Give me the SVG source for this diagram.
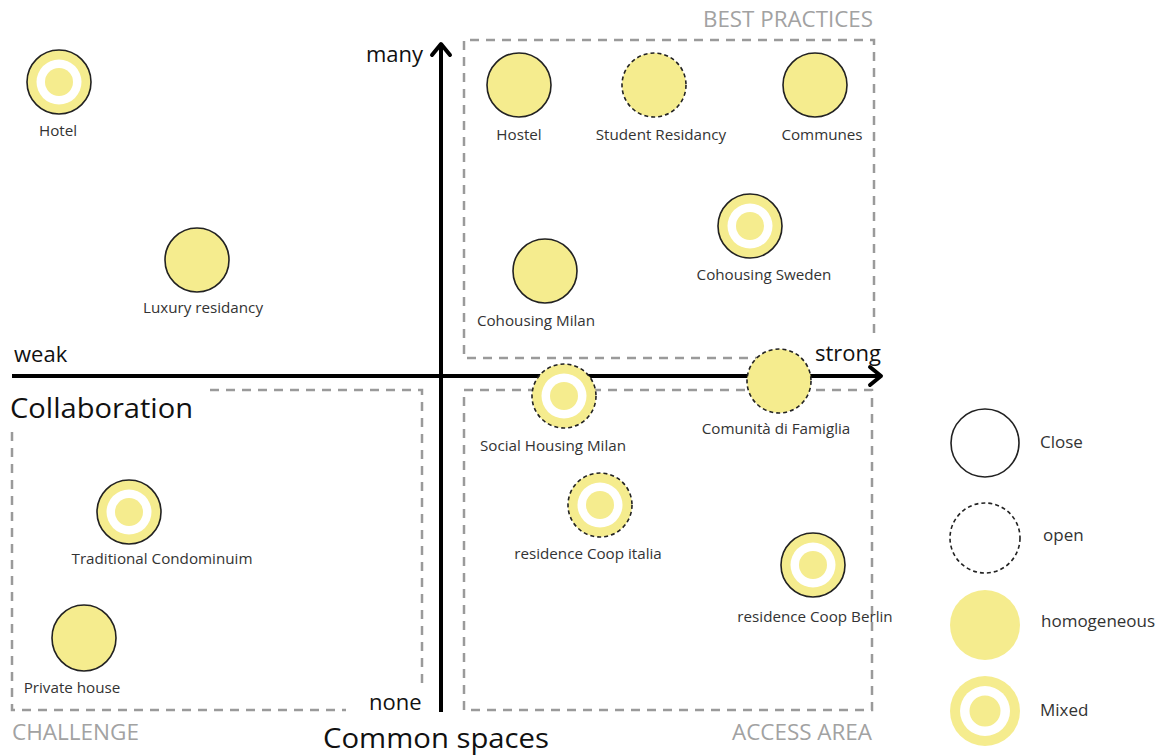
<svg xmlns="http://www.w3.org/2000/svg" width="1161" height="756" viewBox="0 0 1161 756">
<style>
  text { font-family: "Open Sans", "Liberation Sans", sans-serif; }
  .lbl { font-size: 15.2px; fill: #333; text-anchor: middle; }
  .leg { font-size: 17px; fill: #333; }
  .ax { font-size: 22px; fill: #111; }
  .title { font-size: 27px; fill: #111; }
  .zone { font-size: 22px; fill: #a2a2a2; }
  .box { fill: none; stroke: #9a9a9a; stroke-width: 2.5; stroke-dasharray: 9 7; }
  .axis { fill: none; stroke: #000; stroke-width: 4; }
  .head { fill: none; stroke: #000; stroke-width: 4; stroke-linecap: round; stroke-linejoin: round; }
  .y { fill: #f5ec8e; }
  .w { fill: #fff; }
  .solid { fill: #f5ec8e; stroke: #222; stroke-width: 1.6; }
  .dash { fill: #f5ec8e; stroke: #222; stroke-width: 1.6; stroke-dasharray: 4 3; }
</style>

<g id="zones">
  <path class="box" d="M780 358 H464 V40 H874 V338"/>
  <rect class="box" x="464" y="390" width="408" height="320"/>
  <path class="box" d="M210 390 H422 V686"/>
  <path class="box" d="M12 432 V710 H346"/>
  <text class="zone" x="703" y="27" textLength="170" lengthAdjust="spacingAndGlyphs">BEST PRACTICES</text>
  <text class="zone" x="12" y="740" textLength="127" lengthAdjust="spacingAndGlyphs">CHALLENGE</text>
  <text class="zone" x="732" y="740" textLength="140" lengthAdjust="spacingAndGlyphs">ACCESS AREA</text>
</g>

<g id="connectors">
  <line class="axis" x1="441" y1="44" x2="441" y2="712"/>
  <path class="head" d="M432 55 L441 44 L450 55"/>
  <line class="axis" x1="12" y1="376" x2="880" y2="376"/>
  <path class="head" d="M870 367 L881 376 L870 385"/>
</g>

<g id="axis-labels">
  <text class="ax" x="366" y="62">many</text>
  <text class="ax" x="369" y="710">none</text>
  <text class="ax" x="14" y="362">weak</text>
  <text class="ax" x="815" y="361">strong</text>
  <text class="title" x="10" y="418" textLength="183" lengthAdjust="spacingAndGlyphs">Collaboration</text>
  <text class="title" x="323" y="748" textLength="226" lengthAdjust="spacingAndGlyphs">Common spaces</text>
</g>

<g id="hotel">
  <circle class="solid" cx="59" cy="82" r="32"/>
  <circle class="w" cx="59" cy="82" r="22.5"/>
  <circle class="y" cx="59" cy="82" r="14"/>
  <text class="lbl" x="58" y="136">Hotel</text>
</g>
<g id="luxury-residancy">
  <circle class="solid" cx="197" cy="260" r="32"/>
  <text class="lbl" x="203" y="313">Luxury residancy</text>
</g>
<g id="hostel">
  <circle class="solid" cx="519" cy="85" r="32"/>
  <text class="lbl" x="519" y="140">Hostel</text>
</g>
<g id="student-residancy">
  <circle class="dash" cx="654" cy="85" r="32"/>
  <text class="lbl" x="661" y="140">Student Residancy</text>
</g>
<g id="communes">
  <circle class="solid" cx="815" cy="85" r="32"/>
  <text class="lbl" x="822" y="140">Communes</text>
</g>
<g id="cohousing-sweden">
  <circle class="solid" cx="750" cy="226" r="32"/>
  <circle class="w" cx="750" cy="226" r="22.5"/>
  <circle class="y" cx="750" cy="226" r="14"/>
  <text class="lbl" x="764" y="280">Cohousing Sweden</text>
</g>
<g id="cohousing-milan">
  <circle class="solid" cx="545" cy="271" r="32"/>
  <text class="lbl" x="536" y="326">Cohousing Milan</text>
</g>
<g id="social-housing-milan">
  <circle class="dash" cx="564" cy="396" r="32"/>
  <circle class="w" cx="564" cy="396" r="22.5"/>
  <circle class="y" cx="564" cy="396" r="14"/>
  <text class="lbl" x="553" y="451">Social Housing Milan</text>
</g>
<g id="comunita-di-famiglia">
  <circle class="dash" cx="779" cy="381" r="32"/>
  <text class="lbl" x="776" y="434">Comunità di Famiglia</text>
</g>
<g id="traditional-condominuim">
  <circle class="solid" cx="129" cy="512" r="32"/>
  <circle class="w" cx="129" cy="512" r="22.5"/>
  <circle class="y" cx="129" cy="512" r="14"/>
  <text class="lbl" x="162" y="564">Traditional Condominuim</text>
</g>
<g id="residence-coop-italia">
  <circle class="dash" cx="600" cy="505" r="32"/>
  <circle class="w" cx="600" cy="505" r="22.5"/>
  <circle class="y" cx="600" cy="505" r="14"/>
  <text class="lbl" x="588" y="559">residence Coop italia</text>
</g>
<g id="residence-coop-berlin">
  <circle class="solid" cx="813" cy="565" r="32"/>
  <circle class="w" cx="813" cy="565" r="22.5"/>
  <circle class="y" cx="813" cy="565" r="14"/>
  <text class="lbl" x="815" y="622">residence Coop Berlin</text>
</g>
<g id="private-house">
  <ellipse class="solid" cx="84" cy="638" rx="32" ry="33"/>
  <text class="lbl" x="72" y="693">Private house</text>
</g>

<g id="legend">
  <g id="legend-close">
    <circle cx="985" cy="443" r="34" fill="#fff" stroke="#222" stroke-width="1.6"/>
    <text class="leg" x="1040" y="448">Close</text>
  </g>
  <g id="legend-open">
    <circle cx="985" cy="538" r="35" fill="#fff" stroke="#222" stroke-width="1.6" stroke-dasharray="4 3"/>
    <text class="leg" x="1043" y="541">open</text>
  </g>
  <g id="legend-homogeneous">
    <circle class="y" cx="985" cy="625" r="35"/>
    <text class="leg" x="1041" y="627">homogeneous</text>
  </g>
  <g id="legend-mixed">
    <circle class="y" cx="985" cy="711" r="35"/>
    <circle class="w" cx="985" cy="711" r="25"/>
    <circle class="y" cx="985" cy="711" r="15.5"/>
    <text class="leg" x="1040" y="716">Mixed</text>
  </g>
</g>
</svg>
